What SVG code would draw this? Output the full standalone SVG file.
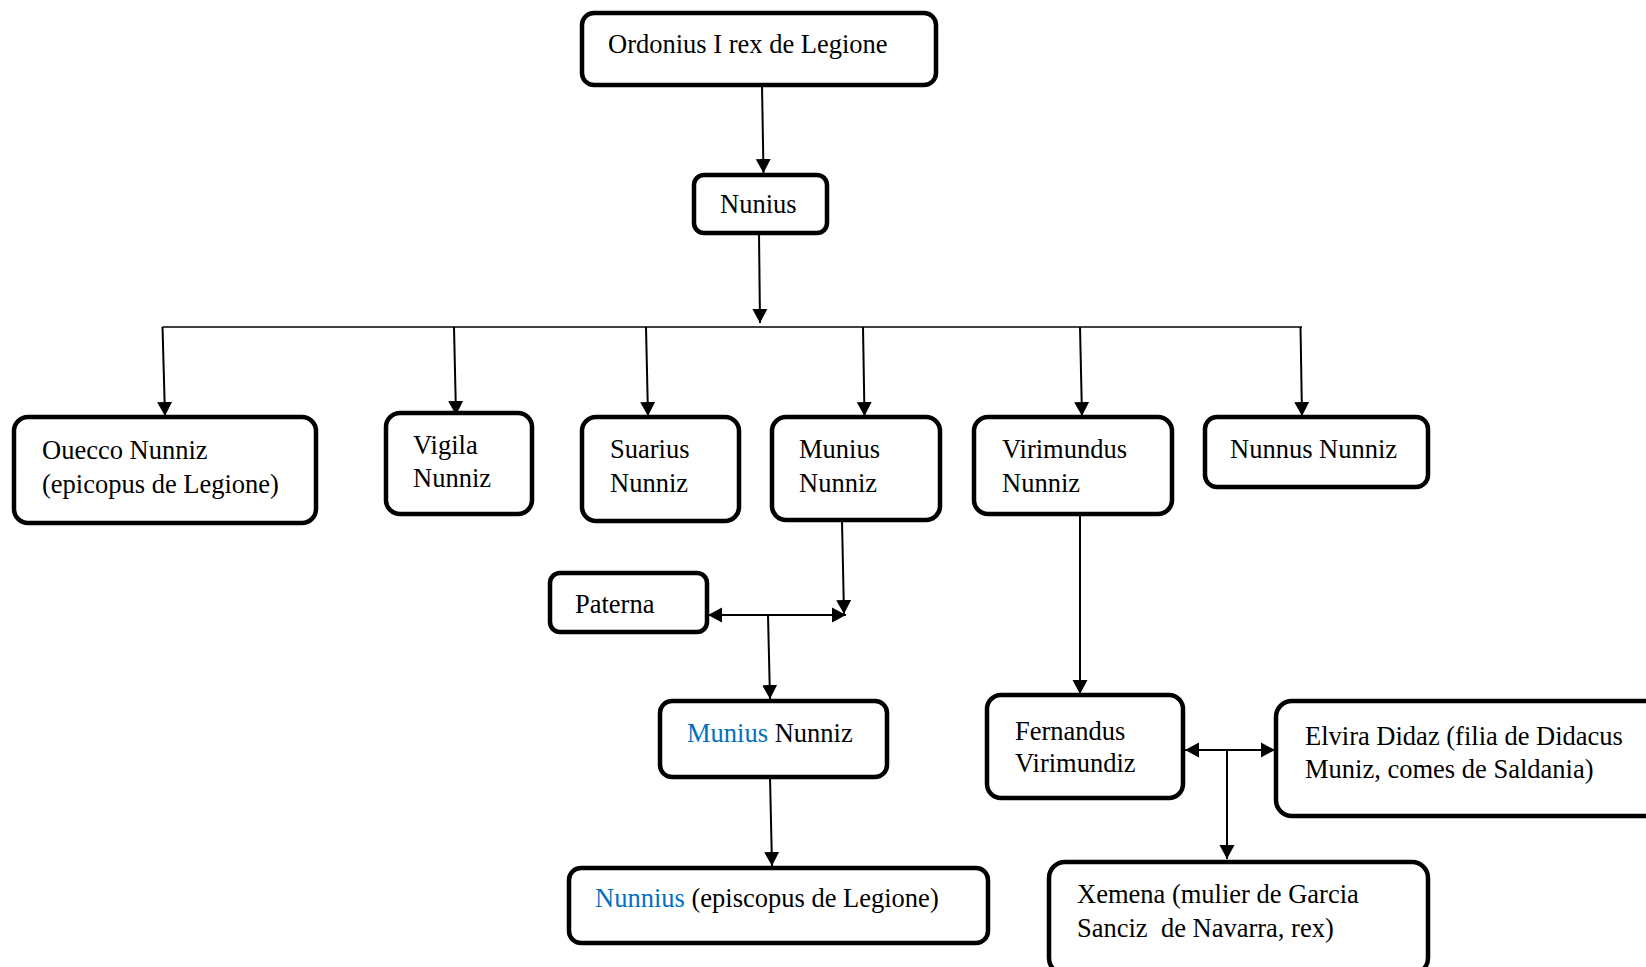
<svg xmlns="http://www.w3.org/2000/svg" width="1646" height="967" viewBox="0 0 1646 967">
<style>
.box{fill:#fff;stroke:#000;stroke-width:4.5;}
.t{font-family:"Liberation Serif","Times New Roman",serif;font-size:26.5px;fill:#000;}
.b{fill:#0070C0;}
.c{stroke:#000;stroke-width:2;fill:none;}
.bus{stroke:#000;stroke-width:1.6;fill:none;}
</style>
<defs>
<marker id="ah" markerUnits="userSpaceOnUse" markerWidth="15" markerHeight="16" refX="14" refY="7.5" orient="auto-start-reverse" viewBox="0 0 15 15">
<path d="M0,0 L14,7.5 L0,15 z" fill="#000"/>
</marker>
</defs>

<g id="connectors">
<line class="c" x1="762" y1="85" x2="763.5" y2="173" marker-end="url(#ah)"/>
<line class="c" x1="759" y1="233" x2="760" y2="323" marker-end="url(#ah)"/>
<line class="bus" x1="162.5" y1="327" x2="1302" y2="327"/>
<line class="c" x1="162.5" y1="327" x2="165" y2="416" marker-end="url(#ah)"/>
<line class="c" x1="454" y1="327" x2="456" y2="415" marker-end="url(#ah)"/>
<line class="c" x1="646" y1="327" x2="648" y2="416" marker-end="url(#ah)"/>
<line class="c" x1="863" y1="327" x2="864.5" y2="416" marker-end="url(#ah)"/>
<line class="c" x1="1080" y1="327" x2="1082" y2="416" marker-end="url(#ah)"/>
<line class="c" x1="1300.5" y1="327" x2="1302" y2="416" marker-end="url(#ah)"/>
<line class="c" x1="842" y1="521" x2="844" y2="614" marker-end="url(#ah)"/>
<line class="c" x1="708" y1="615" x2="846" y2="615" marker-start="url(#ah)" marker-end="url(#ah)"/>
<line class="c" x1="768" y1="615" x2="770" y2="699" marker-end="url(#ah)"/>
<line class="c" x1="770" y1="777" x2="772" y2="866" marker-end="url(#ah)"/>
<line class="c" x1="1080" y1="514" x2="1080" y2="694" marker-end="url(#ah)"/>
<line class="c" x1="1185" y1="750" x2="1275" y2="750" marker-start="url(#ah)" marker-end="url(#ah)"/>
<line class="c" x1="1227" y1="750" x2="1227" y2="859" marker-end="url(#ah)"/>
</g>

<g id="ordonius">
<rect class="box" x="582" y="13" width="354" height="72" rx="12"/>
<text class="t" x="608" y="53">Ordonius I rex de Legione</text>
</g>
<g id="nunius">
<rect class="box" x="694" y="175" width="133" height="58" rx="10"/>
<text class="t" x="720" y="213">Nunius</text>
</g>
<g id="ouecco">
<rect class="box" x="14" y="417" width="302" height="106" rx="14"/>
<text class="t" x="42" y="459">Ouecco Nunniz</text>
<text class="t" x="42" y="493">(epicopus de Legione)</text>
</g>
<g id="vigila">
<rect class="box" x="386" y="413" width="146" height="101" rx="14"/>
<text class="t" x="413" y="454">Vigila</text>
<text class="t" x="413" y="487">Nunniz</text>
</g>
<g id="suarius">
<rect class="box" x="582" y="417" width="157" height="104" rx="14"/>
<text class="t" x="610" y="458">Suarius</text>
<text class="t" x="610" y="492">Nunniz</text>
</g>
<g id="munius">
<rect class="box" x="772" y="417" width="168" height="103" rx="14"/>
<text class="t" x="799" y="458">Munius</text>
<text class="t" x="799" y="492">Nunniz</text>
</g>
<g id="virimundus">
<rect class="box" x="974" y="417" width="198" height="97" rx="14"/>
<text class="t" x="1002" y="458">Virimundus</text>
<text class="t" x="1002" y="492">Nunniz</text>
</g>
<g id="nunnus">
<rect class="box" x="1205" y="417" width="223" height="70" rx="12"/>
<text class="t" x="1230" y="458">Nunnus Nunniz</text>
</g>
<g id="paterna">
<rect class="box" x="550" y="573" width="157" height="59" rx="10"/>
<text class="t" x="575" y="613">Paterna</text>
</g>
<g id="munius-nunniz">
<rect class="box" x="660" y="701" width="227" height="76" rx="12"/>
<text class="t" x="687" y="742"><tspan class="b">Munius</tspan> Nunniz</text>
</g>
<g id="nunnius">
<rect class="box" x="569" y="868" width="419" height="75" rx="12"/>
<text class="t" x="595" y="907"><tspan class="b">Nunnius</tspan> (episcopus de Legione)</text>
</g>
<g id="fernandus">
<rect class="box" x="987" y="695" width="196" height="103" rx="14"/>
<text class="t" x="1015" y="740">Fernandus</text>
<text class="t" x="1015" y="772">Virimundiz</text>
</g>
<g id="elvira">
<rect class="box" x="1276" y="701" width="400" height="115" rx="16"/>
<text class="t" x="1305" y="745">Elvira Didaz (filia de Didacus</text>
<text class="t" x="1305" y="778">Muniz, comes de Saldania)</text>
</g>
<g id="xemena">
<rect class="box" x="1049" y="862" width="379" height="112" rx="16"/>
<text class="t" x="1077" y="903">Xemena (mulier de Garcia</text>
<text class="t" x="1077" y="937" xml:space="preserve">Sanciz  de Navarra, rex)</text>
</g>
</svg>
